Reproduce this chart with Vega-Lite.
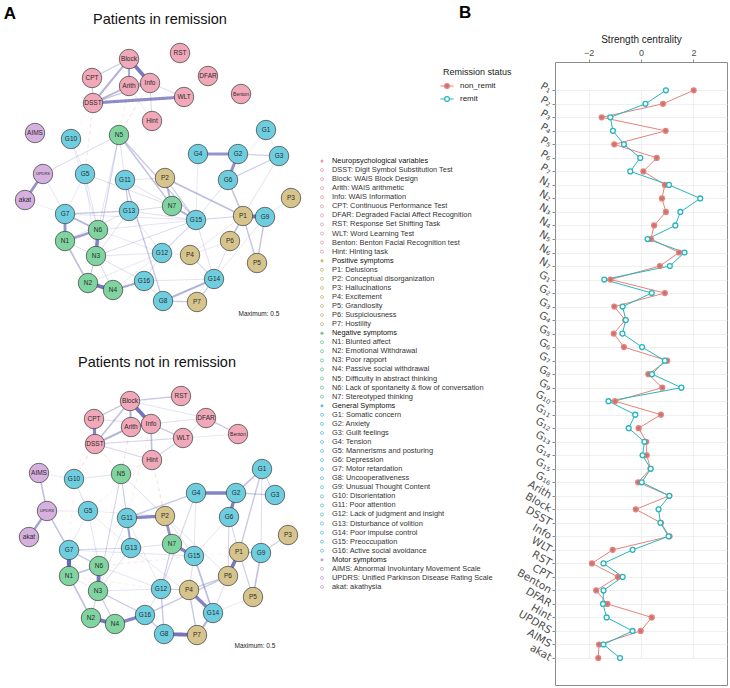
{
"$schema": "https://vega.github.io/schema/vega-lite/v6.json",
"background": "#ffffff",
"padding": {"left": 0, "top": 3, "right": 0, "bottom": 0},
"bounds": "flush",
"spacing": 0,
"config": {"view": {"stroke": null}, "font": "Liberation Sans"},
"resolve": {"scale": {"fill": "independent", "stroke": "independent", "opacity": "independent", "strokeWidth": "independent", "strokeDash": "independent", "size": "independent", "color": "independent"}},
"datasets": {
"nodes": [
{"id":"R:Block","name":"Block","grp":"neuro","x":129,"y":57},{"id":"R:RST","name":"RST","grp":"neuro","x":180,"y":51},{"id":"R:CPT","name":"CPT","grp":"neuro","x":92,"y":76},{"id":"R:Arith","name":"Arith","grp":"neuro","x":129,"y":84},{"id":"R:Info","name":"Info","grp":"neuro","x":150,"y":81},{"id":"R:DFAR","name":"DFAR","grp":"neuro","x":208,"y":74},{"id":"R:Benton","name":"Benton","grp":"neuro","x":241,"y":92},{"id":"R:DSST","name":"DSST","grp":"neuro","x":93,"y":101},{"id":"R:WLT","name":"WLT","grp":"neuro","x":184,"y":95},{"id":"R:Hint","name":"Hint","grp":"neuro","x":152,"y":119},
{"id":"R:AIMS","name":"AIMS","grp":"motor","x":35,"y":131},{"id":"R:UPDRS","name":"UPDRS","grp":"motor","x":43,"y":172},{"id":"R:akat","name":"akat","grp":"motor","x":25,"y":198},
{"id":"R:G10","name":"G10","grp":"gen","x":71,"y":137},{"id":"R:N5","name":"N5","grp":"neg","x":119,"y":133},{"id":"R:G1","name":"G1","grp":"gen","x":266,"y":128},{"id":"R:G4","name":"G4","grp":"gen","x":198,"y":152},{"id":"R:G2","name":"G2","grp":"gen","x":238,"y":152},{"id":"R:G3","name":"G3","grp":"gen","x":279,"y":154},
{"id":"R:G5","name":"G5","grp":"gen","x":85,"y":172},{"id":"R:G11","name":"G11","grp":"gen","x":125,"y":178},{"id":"R:P2","name":"P2","grp":"pos","x":165,"y":176},{"id":"R:G6","name":"G6","grp":"gen","x":228,"y":178},{"id":"R:P3","name":"P3","grp":"pos","x":291,"y":196},
{"id":"R:G7","name":"G7","grp":"gen","x":65,"y":212},{"id":"R:G13","name":"G13","grp":"gen","x":129,"y":209},{"id":"R:N7","name":"N7","grp":"neg","x":172,"y":204},{"id":"R:G15","name":"G15","grp":"gen","x":196,"y":218},{"id":"R:P1","name":"P1","grp":"pos","x":243,"y":214},{"id":"R:G9","name":"G9","grp":"gen","x":265,"y":215},
{"id":"R:N6","name":"N6","grp":"neg","x":98,"y":228},{"id":"R:N1","name":"N1","grp":"neg","x":65,"y":239},{"id":"R:P6","name":"P6","grp":"pos","x":230,"y":239},{"id":"R:N3","name":"N3","grp":"neg","x":96,"y":254},{"id":"R:G12","name":"G12","grp":"gen","x":162,"y":251},{"id":"R:P4","name":"P4","grp":"pos","x":190,"y":253},{"id":"R:P5","name":"P5","grp":"pos","x":257,"y":261},
{"id":"R:G14","name":"G14","grp":"gen","x":214,"y":277},{"id":"R:G16","name":"G16","grp":"gen","x":144,"y":279},{"id":"R:N2","name":"N2","grp":"neg","x":88,"y":281},{"id":"R:N4","name":"N4","grp":"neg","x":113,"y":288},{"id":"R:G8","name":"G8","grp":"gen","x":163,"y":299},{"id":"R:P7","name":"P7","grp":"pos","x":197,"y":300},
{"id":"N:Block","name":"Block","grp":"neuro","x":130,"y":399},{"id":"N:RST","name":"RST","grp":"neuro","x":181,"y":394},{"id":"N:CPT","name":"CPT","grp":"neuro","x":94,"y":417},{"id":"N:Arith","name":"Arith","grp":"neuro","x":131,"y":425},{"id":"N:Info","name":"Info","grp":"neuro","x":151,"y":422},{"id":"N:DFAR","name":"DFAR","grp":"neuro","x":206,"y":416},{"id":"N:Benton","name":"Benton","grp":"neuro","x":238,"y":432},{"id":"N:DSST","name":"DSST","grp":"neuro","x":95,"y":442},{"id":"N:WLT","name":"WLT","grp":"neuro","x":183,"y":436},{"id":"N:Hint","name":"Hint","grp":"neuro","x":152,"y":458},
{"id":"N:AIMS","name":"AIMS","grp":"motor","x":39,"y":471},{"id":"N:UPDRS","name":"UPDRS","grp":"motor","x":47,"y":509},{"id":"N:akat","name":"akat","grp":"motor","x":29,"y":535},
{"id":"N:G10","name":"G10","grp":"gen","x":74,"y":477},{"id":"N:N5","name":"N5","grp":"neg","x":121,"y":472},{"id":"N:G1","name":"G1","grp":"gen","x":262,"y":467},{"id":"N:G4","name":"G4","grp":"gen","x":196,"y":491},{"id":"N:G2","name":"G2","grp":"gen","x":236,"y":491},{"id":"N:G3","name":"G3","grp":"gen","x":275,"y":493},
{"id":"N:G5","name":"G5","grp":"gen","x":88,"y":509},{"id":"N:G11","name":"G11","grp":"gen","x":127,"y":516},{"id":"N:P2","name":"P2","grp":"pos","x":165,"y":514},{"id":"N:G6","name":"G6","grp":"gen","x":229,"y":515},{"id":"N:P3","name":"P3","grp":"pos","x":288,"y":533},
{"id":"N:G7","name":"G7","grp":"gen","x":69,"y":548},{"id":"N:G13","name":"G13","grp":"gen","x":131,"y":546},{"id":"N:N7","name":"N7","grp":"neg","x":172,"y":542},{"id":"N:G15","name":"G15","grp":"gen","x":194,"y":554},{"id":"N:P1","name":"P1","grp":"pos","x":239,"y":550},{"id":"N:G9","name":"G9","grp":"gen","x":261,"y":551},
{"id":"N:N6","name":"N6","grp":"neg","x":99,"y":564},{"id":"N:N1","name":"N1","grp":"neg","x":69,"y":574},{"id":"N:P6","name":"P6","grp":"pos","x":228,"y":574},{"id":"N:N3","name":"N3","grp":"neg","x":98,"y":589},{"id":"N:G12","name":"G12","grp":"gen","x":161,"y":587},{"id":"N:P4","name":"P4","grp":"pos","x":189,"y":588},{"id":"N:P5","name":"P5","grp":"pos","x":253,"y":595},
{"id":"N:G14","name":"G14","grp":"gen","x":213,"y":611},{"id":"N:G16","name":"G16","grp":"gen","x":145,"y":613},{"id":"N:N2","name":"N2","grp":"neg","x":91,"y":616},{"id":"N:N4","name":"N4","grp":"neg","x":115,"y":622},{"id":"N:G8","name":"G8","grp":"gen","x":164,"y":632},{"id":"N:P7","name":"P7","grp":"pos","x":197,"y":633}
],
"edges": [
{"a":"R:Arith","b":"R:Hint","w":0.04,"sign":"pos"},{"a":"R:G1","b":"R:G3","w":0.04,"sign":"pos"},{"a":"R:G4","b":"R:G15","w":0.04,"sign":"pos"},{"a":"R:G1","b":"R:G6","w":0.03,"sign":"pos"},{"a":"R:G9","b":"R:G14","w":0.04,"sign":"pos"},{"a":"R:P4","b":"R:P1","w":0.04,"sign":"pos"},{"a":"R:G12","b":"R:P4","w":0.04,"sign":"pos"},{"a":"R:G5","b":"R:G7","w":0.04,"sign":"pos"},{"a":"R:P6","b":"R:P4","w":0.04,"sign":"pos"},{"a":"R:G5","b":"R:N3","w":0.04,"sign":"pos"},{"a":"R:N2","b":"R:G12","w":0.04,"sign":"pos"},{"a":"R:N4","b":"R:G12","w":0.04,"sign":"pos"},{"a":"R:N6","b":"R:G12","w":0.04,"sign":"pos"},{"a":"R:akat","b":"R:G7","w":0.03,"sign":"pos"},{"a":"R:G10","b":"R:N6","w":0.04,"sign":"pos"},
{"a":"R:G10","b":"R:G5","w":0.05,"sign":"pos"},{"a":"R:UPDRS","b":"R:G7","w":0.05,"sign":"pos"},{"a":"R:N5","b":"R:G13","w":0.05,"sign":"pos"},{"a":"R:N5","b":"R:N6","w":0.05,"sign":"pos"},{"a":"R:G3","b":"R:P1","w":0.05,"sign":"pos"},{"a":"R:P2","b":"R:G11","w":0.05,"sign":"pos"},{"a":"R:P3","b":"R:G9","w":0.05,"sign":"pos"},{"a":"R:G13","b":"R:G12","w":0.05,"sign":"pos"},{"a":"R:G12","b":"R:N3","w":0.05,"sign":"pos"},{"a":"R:G5","b":"R:N6","w":0.05,"sign":"pos"},{"a":"R:G16","b":"R:G14","w":0.05,"sign":"pos"},{"a":"R:N6","b":"R:G15","w":0.05,"sign":"pos"},{"a":"R:N1","b":"R:G13","w":0.05,"sign":"pos"},{"a":"R:G7","b":"R:G15","w":0.05,"sign":"pos"},
{"a":"R:G6","b":"R:G15","w":0.06,"sign":"pos"},{"a":"R:P6","b":"R:G14","w":0.06,"sign":"pos"},{"a":"R:G15","b":"R:G14","w":0.06,"sign":"pos"},{"a":"R:N1","b":"R:N3","w":0.06,"sign":"pos"},{"a":"R:G12","b":"R:G16","w":0.06,"sign":"pos"},{"a":"R:G13","b":"R:G15","w":0.06,"sign":"pos"},{"a":"R:G5","b":"R:N7","w":0.06,"sign":"pos"},{"a":"R:G13","b":"R:N3","w":0.06,"sign":"pos"},{"a":"R:G16","b":"R:N3","w":0.06,"sign":"pos"},{"a":"R:G8","b":"R:G16","w":0.06,"sign":"pos"},{"a":"R:G11","b":"R:N7","w":0.06,"sign":"pos"},
{"a":"R:Info","b":"R:WLT","w":0.07,"sign":"pos"},{"a":"R:Info","b":"R:Hint","w":0.07,"sign":"pos"},{"a":"R:UPDRS","b":"R:N5","w":0.07,"sign":"pos"},{"a":"R:N3","b":"R:N4","w":0.07,"sign":"pos"},{"a":"R:G15","b":"R:N3","w":0.07,"sign":"pos"},{"a":"R:G13","b":"R:N7","w":0.07,"sign":"pos"},
{"a":"R:DSST","b":"R:G5","w":0.08,"sign":"neg"},{"a":"R:Arith","b":"R:N5","w":0.07,"sign":"neg"},{"a":"R:Info","b":"R:N5","w":0.09,"sign":"neg"},{"a":"R:DSST","b":"R:G10","w":0.04,"sign":"neg"},
{"a":"R:G15","b":"R:P1","w":0.08,"sign":"pos"},{"a":"R:G11","b":"R:G13","w":0.08,"sign":"pos"},{"a":"R:G12","b":"R:G15","w":0.08,"sign":"pos"},{"a":"R:P4","b":"R:G14","w":0.08,"sign":"pos"},{"a":"R:N5","b":"R:N3","w":0.09,"sign":"pos"},
{"a":"R:CPT","b":"R:DSST","w":0.1,"sign":"pos"},{"a":"R:Block","b":"R:CPT","w":0.1,"sign":"pos"},{"a":"R:G2","b":"R:G3","w":0.1,"sign":"pos"},{"a":"R:G6","b":"R:G3","w":0.1,"sign":"pos"},{"a":"R:P2","b":"R:G15","w":0.1,"sign":"pos"},{"a":"R:N2","b":"R:N3","w":0.1,"sign":"pos"},{"a":"R:P7","b":"R:G14","w":0.1,"sign":"pos"},
{"a":"R:DSST","b":"R:Info","w":0.12,"sign":"pos"},{"a":"R:N5","b":"R:G15","w":0.12,"sign":"pos"},{"a":"R:G7","b":"R:G13","w":0.12,"sign":"pos"},{"a":"R:G11","b":"R:G8","w":0.12,"sign":"pos"},{"a":"R:G8","b":"R:P7","w":0.12,"sign":"pos"},{"a":"R:P1","b":"R:P5","w":0.13,"sign":"pos"},{"a":"R:G9","b":"R:P5","w":0.13,"sign":"pos"},
{"a":"R:N5","b":"R:N7","w":0.14,"sign":"pos"},{"a":"R:G6","b":"R:P1","w":0.14,"sign":"pos"},{"a":"R:P1","b":"R:P6","w":0.15,"sign":"pos"},{"a":"R:P2","b":"R:P1","w":0.16,"sign":"pos"},{"a":"R:N1","b":"R:N2","w":0.16,"sign":"pos"},{"a":"R:Arith","b":"R:DSST","w":0.18,"sign":"pos"},{"a":"R:P2","b":"R:N7","w":0.18,"sign":"pos"},{"a":"R:G7","b":"R:N6","w":0.18,"sign":"pos"},
{"a":"R:Block","b":"R:DSST","w":0.2,"sign":"pos"},{"a":"R:N7","b":"R:G15","w":0.2,"sign":"pos"},{"a":"R:G14","b":"R:G8","w":0.2,"sign":"pos"},{"a":"R:Block","b":"R:Arith","w":0.22,"sign":"pos"},{"a":"R:Arith","b":"R:Info","w":0.22,"sign":"pos"},{"a":"R:N4","b":"R:G16","w":0.22,"sign":"pos"},{"a":"R:N1","b":"R:N6","w":0.26,"sign":"pos"},
{"a":"R:UPDRS","b":"R:akat","w":0.3,"sign":"pos"},{"a":"R:G4","b":"R:G2","w":0.3,"sign":"pos"},{"a":"R:G7","b":"R:N1","w":0.3,"sign":"pos"},{"a":"R:G2","b":"R:G6","w":0.32,"sign":"pos"},{"a":"R:DSST","b":"R:WLT","w":0.33,"sign":"pos"},{"a":"R:N6","b":"R:N3","w":0.36,"sign":"pos"},{"a":"R:Block","b":"R:Info","w":0.4,"sign":"pos"},{"a":"R:P1","b":"R:G9","w":0.42,"sign":"pos"},{"a":"R:N2","b":"R:N4","w":0.42,"sign":"pos"},
{"a":"N:Benton","b":"N:WLT","w":0.04,"sign":"pos"},{"a":"N:UPDRS","b":"N:G5","w":0.04,"sign":"pos"},{"a":"N:AIMS","b":"N:G10","w":0.04,"sign":"pos"},{"a":"N:G5","b":"N:G7","w":0.04,"sign":"pos"},{"a":"N:P5","b":"N:G14","w":0.04,"sign":"pos"},{"a":"N:G5","b":"N:G13","w":0.04,"sign":"pos"},{"a":"N:N1","b":"N:G16","w":0.04,"sign":"pos"},{"a":"N:G13","b":"N:G14","w":0.04,"sign":"pos"},{"a":"N:G11","b":"N:G12","w":0.04,"sign":"pos"},{"a":"N:G5","b":"N:P2","w":0.04,"sign":"pos"},
{"a":"N:Block","b":"N:DFAR","w":0.05,"sign":"pos"},{"a":"N:WLT","b":"N:DFAR","w":0.05,"sign":"pos"},{"a":"N:G10","b":"N:N5","w":0.05,"sign":"pos"},{"a":"N:N5","b":"N:G13","w":0.05,"sign":"pos"},{"a":"N:G4","b":"N:G15","w":0.05,"sign":"pos"},{"a":"N:G5","b":"N:N6","w":0.05,"sign":"pos"},{"a":"N:G11","b":"N:N3","w":0.05,"sign":"pos"},{"a":"N:P2","b":"N:P6","w":0.05,"sign":"pos"},{"a":"N:G6","b":"N:G15","w":0.05,"sign":"pos"},{"a":"N:G7","b":"N:G15","w":0.05,"sign":"pos"},{"a":"N:N6","b":"N:G12","w":0.05,"sign":"pos"},{"a":"N:N3","b":"N:G12","w":0.05,"sign":"pos"},
{"a":"N:Info","b":"N:DFAR","w":0.06,"sign":"pos"},{"a":"N:CPT","b":"N:Info","w":0.06,"sign":"pos"},{"a":"N:G10","b":"N:G5","w":0.06,"sign":"pos"},{"a":"N:N5","b":"N:G11","w":0.06,"sign":"pos"},{"a":"N:N5","b":"N:P2","w":0.06,"sign":"pos"},{"a":"N:G1","b":"N:G9","w":0.06,"sign":"pos"},{"a":"N:G15","b":"N:P4","w":0.06,"sign":"pos"},{"a":"N:G13","b":"N:N7","w":0.06,"sign":"pos"},{"a":"N:G12","b":"N:G16","w":0.06,"sign":"pos"},{"a":"N:G13","b":"N:N3","w":0.06,"sign":"pos"},{"a":"N:P2","b":"N:G15","w":0.06,"sign":"pos"},{"a":"N:G14","b":"N:P6","w":0.06,"sign":"pos"},
{"a":"N:DSST","b":"N:G10","w":0.1,"sign":"neg"},{"a":"N:DSST","b":"N:N5","w":0.08,"sign":"neg"},{"a":"N:Arith","b":"N:N5","w":0.1,"sign":"neg"},{"a":"N:Hint","b":"N:N5","w":0.08,"sign":"neg"},{"a":"N:Hint","b":"N:P2","w":0.1,"sign":"neg"},{"a":"N:Info","b":"N:G11","w":0.06,"sign":"neg"},{"a":"N:Hint","b":"N:G5","w":0.05,"sign":"neg"},{"a":"N:CPT","b":"N:G10","w":0.04,"sign":"neg"},{"a":"N:G10","b":"N:G7","w":0.04,"sign":"neg"},{"a":"N:N1","b":"N:G12","w":0.05,"sign":"neg"},{"a":"N:N6","b":"N:G15","w":0.04,"sign":"neg"},{"a":"N:N6","b":"N:P1","w":0.03,"sign":"neg"},
{"a":"N:DSST","b":"N:WLT","w":0.08,"sign":"pos"},{"a":"N:DSST","b":"N:Hint","w":0.08,"sign":"pos"},{"a":"N:WLT","b":"N:Hint","w":0.08,"sign":"pos"},{"a":"N:N5","b":"N:N3","w":0.08,"sign":"pos"},{"a":"N:G1","b":"N:G3","w":0.08,"sign":"pos"},{"a":"N:G4","b":"N:G12","w":0.08,"sign":"pos"},{"a":"N:G6","b":"N:P6","w":0.08,"sign":"pos"},{"a":"N:G6","b":"N:P1","w":0.08,"sign":"pos"},{"a":"N:N2","b":"N:N3","w":0.08,"sign":"pos"},{"a":"N:N3","b":"N:G16","w":0.08,"sign":"pos"},{"a":"N:G7","b":"N:G13","w":0.08,"sign":"pos"},
{"a":"N:N7","b":"N:G12","w":0.1,"sign":"pos"},{"a":"N:P1","b":"N:P5","w":0.1,"sign":"pos"},{"a":"N:P3","b":"N:G9","w":0.1,"sign":"pos"},{"a":"N:P4","b":"N:G12","w":0.1,"sign":"pos"},{"a":"N:N3","b":"N:N4","w":0.1,"sign":"pos"},
{"a":"N:Block","b":"N:RST","w":0.12,"sign":"pos"},{"a":"N:Block","b":"N:CPT","w":0.12,"sign":"pos"},{"a":"N:Info","b":"N:WLT","w":0.12,"sign":"pos"},{"a":"N:DFAR","b":"N:Benton","w":0.12,"sign":"pos"},{"a":"N:G2","b":"N:G3","w":0.12,"sign":"pos"},{"a":"N:G1","b":"N:P1","w":0.12,"sign":"pos"},{"a":"N:G4","b":"N:G11","w":0.12,"sign":"pos"},{"a":"N:P6","b":"N:P4","w":0.12,"sign":"pos"},{"a":"N:P4","b":"N:P7","w":0.12,"sign":"pos"},{"a":"N:G16","b":"N:P6","w":0.12,"sign":"pos"},{"a":"N:G16","b":"N:G8","w":0.12,"sign":"pos"},{"a":"N:G7","b":"N:N6","w":0.12,"sign":"pos"},{"a":"N:G12","b":"N:G8","w":0.12,"sign":"pos"},
{"a":"N:UPDRS","b":"N:G7","w":0.14,"sign":"pos"},{"a":"N:Block","b":"N:DSST","w":0.15,"sign":"pos"},{"a":"N:Info","b":"N:Hint","w":0.15,"sign":"pos"},{"a":"N:AIMS","b":"N:UPDRS","w":0.15,"sign":"pos"},{"a":"N:G2","b":"N:G1","w":0.15,"sign":"pos"},{"a":"N:P1","b":"N:G9","w":0.15,"sign":"pos"},{"a":"N:G9","b":"N:P5","w":0.15,"sign":"pos"},{"a":"N:N1","b":"N:N2","w":0.15,"sign":"pos"},{"a":"N:N1","b":"N:N6","w":0.15,"sign":"pos"},{"a":"N:G15","b":"N:G14","w":0.16,"sign":"pos"},
{"a":"N:Block","b":"N:Arith","w":0.2,"sign":"pos"},{"a":"N:DSST","b":"N:Arith","w":0.2,"sign":"pos"},{"a":"N:Arith","b":"N:Info","w":0.2,"sign":"pos"},{"a":"N:G14","b":"N:P7","w":0.2,"sign":"pos"},{"a":"N:G11","b":"N:G13","w":0.22,"sign":"pos"},{"a":"N:UPDRS","b":"N:akat","w":0.25,"sign":"pos"},{"a":"N:P2","b":"N:N7","w":0.3,"sign":"pos"},
{"a":"N:CPT","b":"N:DSST","w":0.35,"sign":"pos"},{"a":"N:G11","b":"N:P2","w":0.35,"sign":"pos"},{"a":"N:G4","b":"N:G2","w":0.36,"sign":"pos"},{"a":"N:G2","b":"N:G6","w":0.36,"sign":"pos"},{"a":"N:N7","b":"N:G15","w":0.36,"sign":"pos"},{"a":"N:P4","b":"N:G14","w":0.36,"sign":"pos"},{"a":"N:N4","b":"N:G16","w":0.36,"sign":"pos"},{"a":"N:P1","b":"N:P6","w":0.4,"sign":"pos"},{"a":"N:N6","b":"N:N3","w":0.4,"sign":"pos"},{"a":"N:Block","b":"N:Info","w":0.42,"sign":"pos"},{"a":"N:G8","b":"N:P7","w":0.42,"sign":"pos"},{"a":"N:N2","b":"N:N4","w":0.42,"sign":"pos"},{"a":"N:N1","b":"N:G7","w":0.46,"sign":"pos"}
],
"keyrows": [
{"row":0,"text":"Neuropsychological variables","grp":"neuro","head":true},
{"row":1,"text":"DSST:  Digit Symbol Substitution Test","grp":"neuro","head":false},
{"row":2,"text":"Block: WAIS Block Design","grp":"neuro","head":false},
{"row":3,"text":"Arith: WAIS arithmetic","grp":"neuro","head":false},
{"row":4,"text":"Info: WAIS Information","grp":"neuro","head":false},
{"row":5,"text":"CPT: Continuous Performance Test","grp":"neuro","head":false},
{"row":6,"text":"DFAR: Degraded Facial Affect Recognition","grp":"neuro","head":false},
{"row":7,"text":"RST: Response Set Shifting Task","grp":"neuro","head":false},
{"row":8,"text":"WLT: Word Learning Test","grp":"neuro","head":false},
{"row":9,"text":"Benton: Benton Facial Recognition test","grp":"neuro","head":false},
{"row":10,"text":"Hint: Hinting task","grp":"neuro","head":false},
{"row":11,"text":"Positive symptoms","grp":"pos","head":true},
{"row":12,"text":"P1: Delusions","grp":"pos","head":false},
{"row":13,"text":"P2: Conceptual disorganization","grp":"pos","head":false},
{"row":14,"text":"P3: Hallucinations","grp":"pos","head":false},
{"row":15,"text":"P4: Excitement","grp":"pos","head":false},
{"row":16,"text":"P5: Grandiosity","grp":"pos","head":false},
{"row":17,"text":"P6: Suspiciousness","grp":"pos","head":false},
{"row":18,"text":"P7: Hostility","grp":"pos","head":false},
{"row":19,"text":"Negative symptoms","grp":"neg","head":true},
{"row":20,"text":"N1: Blunted affect","grp":"neg","head":false},
{"row":21,"text":"N2: Emotional Withdrawal","grp":"neg","head":false},
{"row":22,"text":"N3: Poor rapport","grp":"neg","head":false},
{"row":23,"text":"N4: Passive social withdrawal","grp":"neg","head":false},
{"row":24,"text":"N5: Difficulty in abstract thinking","grp":"neg","head":false},
{"row":25,"text":"N6: Lack of spontaneity & flow of conversation","grp":"neg","head":false},
{"row":26,"text":"N7: Stereotyped thinking","grp":"neg","head":false},
{"row":27,"text":"General Symptoms","grp":"gen","head":true},
{"row":28,"text":"G1: Somatic concern","grp":"gen","head":false},
{"row":29,"text":"G2: Anxiety","grp":"gen","head":false},
{"row":30,"text":"G3: Guilt feelings","grp":"gen","head":false},
{"row":31,"text":"G4: Tension","grp":"gen","head":false},
{"row":32,"text":"G5: Mannerisms and posturing","grp":"gen","head":false},
{"row":33,"text":"G6: Depression","grp":"gen","head":false},
{"row":34,"text":"G7: Motor retardation","grp":"gen","head":false},
{"row":35,"text":"G8: Uncooperativeness","grp":"gen","head":false},
{"row":36,"text":"G9: Unusual Thought Content","grp":"gen","head":false},
{"row":37,"text":"G10: Disorientation","grp":"gen","head":false},
{"row":38,"text":"G11: Poor attention","grp":"gen","head":false},
{"row":39,"text":"G12: Lack of judgment and insight","grp":"gen","head":false},
{"row":40,"text":"G13: Disturbance of volition","grp":"gen","head":false},
{"row":41,"text":"G14: Poor impulse control","grp":"gen","head":false},
{"row":42,"text":"G15: Preoccupation","grp":"gen","head":false},
{"row":43,"text":"G16: Active social avoidance","grp":"gen","head":false},
{"row":44,"text":"Motor symptoms","grp":"motor","head":true},
{"row":45,"text":"AIMS: Abnormal Involuntary Movement Scale","grp":"motor","head":false},
{"row":46,"text":"UPDRS: Unified Parkinson Disease Rating Scale","grp":"motor","head":false},
{"row":47,"text":"akat: akathysia","grp":"motor","head":false}
],
"cent": [
{"item":"P₁","order":1,"status":"non_remit","value":2.01},{"item":"P₁","order":1,"status":"remit","value":0.95},
{"item":"P₂","order":2,"status":"non_remit","value":0.84},{"item":"P₂","order":2,"status":"remit","value":0.17},
{"item":"P₃","order":3,"status":"non_remit","value":-1.5},{"item":"P₃","order":3,"status":"remit","value":-1.17},
{"item":"P₄","order":4,"status":"non_remit","value":0.94},{"item":"P₄","order":4,"status":"remit","value":-1.07},
{"item":"P₅","order":5,"status":"non_remit","value":-1.02},{"item":"P₅","order":5,"status":"remit","value":-0.65},
{"item":"P₆","order":6,"status":"non_remit","value":0.6},{"item":"P₆","order":6,"status":"remit","value":-0.03},
{"item":"P₇","order":7,"status":"non_remit","value":0.09},{"item":"P₇","order":7,"status":"remit","value":-0.41},
{"item":"N₁","order":8,"status":"non_remit","value":0.91},{"item":"N₁","order":8,"status":"remit","value":1.07},
{"item":"N₂","order":9,"status":"non_remit","value":0.8},{"item":"N₂","order":9,"status":"remit","value":2.26},
{"item":"N₃","order":10,"status":"non_remit","value":0.95},{"item":"N₃","order":10,"status":"remit","value":1.5},
{"item":"N₄","order":11,"status":"non_remit","value":0.5},{"item":"N₄","order":11,"status":"remit","value":1.31},
{"item":"N₅","order":12,"status":"non_remit","value":0.38},{"item":"N₅","order":12,"status":"remit","value":0.25},
{"item":"N₆","order":13,"status":"non_remit","value":1.45},{"item":"N₆","order":13,"status":"remit","value":1.66},
{"item":"N₇","order":14,"status":"non_remit","value":0.72},{"item":"N₇","order":14,"status":"remit","value":1.1},
{"item":"G₁","order":15,"status":"non_remit","value":-1.16},{"item":"G₁","order":15,"status":"remit","value":-1.4},
{"item":"G₂","order":16,"status":"non_remit","value":0.91},{"item":"G₂","order":16,"status":"remit","value":0.41},
{"item":"G₃","order":17,"status":"non_remit","value":-1.02},{"item":"G₃","order":17,"status":"remit","value":-0.7},
{"item":"G₄","order":18,"status":"non_remit","value":-0.6},{"item":"G₄","order":18,"status":"remit","value":-0.58},
{"item":"G₅","order":19,"status":"non_remit","value":-1.04},{"item":"G₅","order":19,"status":"remit","value":-0.71},
{"item":"G₆","order":20,"status":"non_remit","value":-0.65},{"item":"G₆","order":20,"status":"remit","value":0.04},
{"item":"G₇","order":21,"status":"non_remit","value":1.0},{"item":"G₇","order":21,"status":"remit","value":0.91},
{"item":"G₈","order":22,"status":"non_remit","value":0.28},{"item":"G₈","order":22,"status":"remit","value":0.42},
{"item":"G₉","order":23,"status":"non_remit","value":0.81},{"item":"G₉","order":23,"status":"remit","value":1.54},
{"item":"G₁₀","order":24,"status":"non_remit","value":-0.99},{"item":"G₁₀","order":24,"status":"remit","value":-1.24},
{"item":"G₁₁","order":25,"status":"non_remit","value":0.76},{"item":"G₁₁","order":25,"status":"remit","value":-0.22},
{"item":"G₁₂","order":26,"status":"non_remit","value":-0.09},{"item":"G₁₂","order":26,"status":"remit","value":-0.47},
{"item":"G₁₃","order":27,"status":"non_remit","value":0.2},{"item":"G₁₃","order":27,"status":"remit","value":0.13},
{"item":"G₁₄","order":28,"status":"non_remit","value":0.22},{"item":"G₁₄","order":28,"status":"remit","value":0.06},
{"item":"G₁₅","order":29,"status":"non_remit","value":0.36},{"item":"G₁₅","order":29,"status":"remit","value":0.37},
{"item":"G₁₆","order":30,"status":"non_remit","value":-0.11},{"item":"G₁₆","order":30,"status":"remit","value":0.03},
{"item":"Arith","order":31,"status":"non_remit","value":1.08},{"item":"Arith","order":31,"status":"remit","value":1.08},
{"item":"Block","order":32,"status":"non_remit","value":-0.2},{"item":"Block","order":32,"status":"remit","value":0.67},
{"item":"DSST","order":33,"status":"non_remit","value":0.76},{"item":"DSST","order":33,"status":"remit","value":0.74},
{"item":"Info","order":34,"status":"non_remit","value":1.09},{"item":"Info","order":34,"status":"remit","value":1.05},
{"item":"WLT","order":35,"status":"non_remit","value":-1.08},{"item":"WLT","order":35,"status":"remit","value":-0.32},
{"item":"RST","order":36,"status":"non_remit","value":-1.87},{"item":"RST","order":36,"status":"remit","value":-1.43},
{"item":"CPT","order":37,"status":"non_remit","value":-0.88},{"item":"CPT","order":37,"status":"remit","value":-0.7},
{"item":"Benton","order":38,"status":"non_remit","value":-1.71},{"item":"Benton","order":38,"status":"remit","value":-1.43},
{"item":"DFAR","order":39,"status":"non_remit","value":-1.28},{"item":"DFAR","order":39,"status":"remit","value":-1.45},
{"item":"Hint","order":40,"status":"non_remit","value":0.41},{"item":"Hint","order":40,"status":"remit","value":-1.31},
{"item":"UPDRS","order":41,"status":"non_remit","value":-0.01},{"item":"UPDRS","order":41,"status":"remit","value":-0.32},
{"item":"AIMS","order":42,"status":"non_remit","value":-1.6},{"item":"AIMS","order":42,"status":"remit","value":-1.43},
{"item":"akat","order":43,"status":"non_remit","value":-1.63},{"item":"akat","order":43,"status":"remit","value":-0.8}
]
},
"hconcat": [
{
"width": 310, "height": 623,
"layer": [
{"data": {"name": "edges"},
 "transform": [
  {"lookup": "a", "from": {"data": {"name": "nodes"}, "key": "id", "fields": ["x", "y"]}, "as": ["xa", "ya"]},
  {"lookup": "b", "from": {"data": {"name": "nodes"}, "key": "id", "fields": ["x", "y"]}, "as": ["xb", "yb"]}
 ],
 "mark": {"type": "rule"},
 "encoding": {
  "x": {"field": "xa", "type": "quantitative", "scale": {"domain": [0, 310], "nice": false, "zero": false}, "axis": null},
  "y": {"field": "ya", "type": "quantitative", "scale": {"domain": [60, 683], "nice": false, "zero": false, "reverse": true}, "axis": null},
  "x2": {"field": "xb"},
  "y2": {"field": "yb"},
  "stroke": {"field": "sign", "type": "nominal", "scale": {"domain": ["pos", "neg"], "range": ["#5454ae", "#f0968f"]}, "legend": null},
  "strokeDash": {"field": "sign", "type": "nominal", "scale": {"domain": ["pos", "neg"], "range": [[1, 0], [4, 3]]}, "legend": null},
  "strokeWidth": {"field": "w", "type": "quantitative", "scale": {"domain": [0, 0.5], "range": [0.4, 4.5]}, "legend": null},
  "opacity": {"field": "w", "type": "quantitative", "scale": {"domain": [0, 0.5], "range": [0.12, 0.95]}, "legend": null}
 }
},
{"data": {"name": "nodes"},
 "mark": {"type": "point", "shape": "circle", "filled": true, "size": 380, "stroke": "#3a3a3a", "strokeWidth": 0.7, "opacity": 1},
 "encoding": {
  "x": {"field": "x", "type": "quantitative", "scale": {"domain": [0, 310], "nice": false, "zero": false}, "axis": null},
  "y": {"field": "y", "type": "quantitative", "scale": {"domain": [60, 683], "nice": false, "zero": false, "reverse": true}, "axis": null},
  "fill": {"field": "grp", "type": "nominal", "scale": {"domain": ["neuro", "pos", "neg", "gen", "motor"], "range": ["#f1a8b9", "#d6c48c", "#80d4a0", "#6ecee0", "#d6b0de"]}, "legend": null}
 }
},
{"data": {"name": "nodes"},
 "mark": {"type": "text", "align": "center", "baseline": "middle", "color": "#2a2a2a"},
 "encoding": {
  "x": {"field": "x", "type": "quantitative", "axis": null},
  "y": {"field": "y", "type": "quantitative", "axis": null},
  "text": {"field": "name"},
  "size": {"condition": [{"test": "datum.name === 'UPDRS'", "value": 4}, {"test": "datum.name === 'Benton'", "value": 5}], "value": 6.5}
 }
},
{"data": {"values": [{"label": "Patients in remission"}]},
 "mark": {"type": "text", "fontSize": 14.5, "color": "#111", "align": "center", "baseline": "middle"},
 "encoding": {"x": {"datum": 160, "type": "quantitative"}, "y": {"datum": 18, "type": "quantitative"}, "text": {"field": "label"}}
},
{"data": {"values": [{"label": "Patients not in remission"}]},
 "mark": {"type": "text", "fontSize": 14.5, "color": "#111", "align": "center", "baseline": "middle"},
 "encoding": {"x": {"datum": 157, "type": "quantitative"}, "y": {"datum": 361, "type": "quantitative"}, "text": {"field": "label"}}
},
{"data": {"values": [{"label": "A"}]},
 "mark": {"type": "text", "fontSize": 17, "fontWeight": "bold", "color": "#000", "align": "center", "baseline": "middle"},
 "encoding": {"x": {"datum": 10, "type": "quantitative"}, "y": {"datum": 12, "type": "quantitative"}, "text": {"field": "label"}}
},
{"data": {"values": [{"label": "Maximum: 0.5"}]},
 "mark": {"type": "text", "fontSize": 6.5, "color": "#222", "align": "center", "baseline": "middle"},
 "encoding": {"x": {"datum": 259, "type": "quantitative"}, "y": {"datum": 312, "type": "quantitative"}, "text": {"field": "label"}}
},
{"data": {"values": [{"label": "Maximum: 0.5"}]},
 "mark": {"type": "text", "fontSize": 6.5, "color": "#222", "align": "center", "baseline": "middle"},
 "encoding": {"x": {"datum": 255, "type": "quantitative"}, "y": {"datum": 644, "type": "quantitative"}, "text": {"field": "label"}}
}
]
},
{
"width": 245, "height": 623,
"data": {"name": "keyrows"},
"encoding": {"y": {"field": "row", "type": "ordinal", "scale": {"type": "point", "padding": 0, "range": [99, 525]}, "axis": null}},
"layer": [
{"transform": [{"filter": "datum.head"}],
 "mark": {"type": "point", "shape": "circle", "filled": true, "size": 9, "opacity": 1},
 "encoding": {
  "x": {"datum": 12, "type": "quantitative", "scale": {"domain": [0, 245], "nice": false, "zero": false}, "axis": null},
  "fill": {"field": "grp", "type": "nominal", "scale": {"domain": ["neuro", "pos", "neg", "gen", "motor"], "range": ["#e79aae", "#c9b678", "#6cc692", "#5ec3d6", "#c9a0d2"]}, "legend": null}
 }
},
{"transform": [{"filter": "!datum.head"}],
 "mark": {"type": "point", "shape": "circle", "filled": false, "size": 9, "strokeWidth": 0.8, "opacity": 1},
 "encoding": {
  "x": {"datum": 12, "type": "quantitative", "axis": null},
  "stroke": {"field": "grp", "type": "nominal", "scale": {"domain": ["neuro", "pos", "neg", "gen", "motor"], "range": ["#e79aae", "#c9b678", "#6cc692", "#5ec3d6", "#c9a0d2"]}, "legend": null}
 }
},
{"mark": {"type": "text", "align": "left", "baseline": "middle", "fontSize": 7.4},
 "encoding": {
  "x": {"datum": 22, "type": "quantitative", "axis": null},
  "text": {"field": "text"},
  "fontWeight": {"condition": {"test": "datum.head", "value": "bold"}, "value": "normal"},
  "color": {"condition": {"test": "datum.head", "value": "#111111"}, "value": "#333333"}
 }
}
]
},
{
"width": 172, "height": 623,
"view": {"stroke": "#8c8c8c", "strokeWidth": 1},
"title": {"text": "B", "anchor": "start", "frame": "group", "dx": -96, "fontSize": 17, "fontWeight": "bold", "color": "#000", "offset": 12},
"data": {"name": "cent"},
"encoding": {
 "y": {"field": "item", "type": "nominal", "sort": {"field": "order", "op": "min"}, "scale": {"type": "point", "padding": 0, "range": [28.3, 596]},
  "axis": {"title": null, "labelAngle": 30, "labelAlign": "right", "labelBaseline": "middle", "labelFont": "DejaVu Sans", "labelFontSize": 10.5, "labelColor": "#4d4d4d", "labelPadding": 2, "tickSize": 3, "tickColor": "#8c8c8c", "domain": false, "grid": true, "gridColor": "#ebebeb", "gridWidth": 0.8}},
 "x": {"field": "value", "type": "quantitative", "scale": {"domain": [-3.28, 3.28], "nice": false, "zero": false},
  "axis": {"orient": "top", "values": [-2, 0, 2], "title": "Strength centrality", "titleFontSize": 10, "titleFontWeight": "normal", "titleColor": "#222", "titlePadding": 4, "labelFontSize": 9, "labelColor": "#4d4d4d", "labelPadding": 2, "tickSize": 3, "tickColor": "#8c8c8c", "domain": false, "grid": true, "gridColor": "#ebebeb", "gridWidth": 0.8}}
},
"layer": [
{"mark": {"type": "line", "strokeWidth": 1},
 "encoding": {
  "stroke": {"field": "status", "type": "nominal", "scale": {"domain": ["non_remit", "remit"], "range": ["#e5837b", "#27b6bd"]},
   "legend": {"title": "Remission status", "orient": "none", "legendX": -112, "legendY": 6, "titleFontSize": 9, "titleFontWeight": "normal", "titleColor": "#222", "labelFontSize": 8, "labelColor": "#222", "symbolType": "M-2.2,0L-0.8,0M0.8,0L2.2,0M0.8,0A0.8,0.8,0,1,1,-0.8,0A0.8,0.8,0,1,1,0.8,0Z", "symbolSize": 36, "symbolStrokeWidth": 1.2, "labelOffset": 9, "rowPadding": 3, "titlePadding": 5}},
  "order": {"field": "order", "type": "quantitative"}
 }
},
{"mark": {"type": "point", "shape": "circle", "filled": true, "size": 24, "strokeWidth": 1.3, "opacity": 1},
 "encoding": {
  "stroke": {"field": "status", "type": "nominal",
   "legend": {"title": "Remission status", "orient": "none", "legendX": -112, "legendY": 6, "titleFontSize": 9, "titleFontWeight": "normal", "titleColor": "#222", "labelFontSize": 8, "labelColor": "#222", "symbolType": "M-2.2,0L-0.8,0M0.8,0L2.2,0M0.8,0A0.8,0.8,0,1,1,-0.8,0A0.8,0.8,0,1,1,0.8,0Z", "symbolSize": 36, "symbolStrokeWidth": 1.2, "labelOffset": 9, "rowPadding": 3, "titlePadding": 5}},
  "fill": {"field": "status", "type": "nominal", "scale": {"domain": ["non_remit", "remit"], "range": ["#c97272", "#ffffff"]},
   "legend": {"title": "Remission status", "orient": "none", "legendX": -112, "legendY": 6, "titleFontSize": 9, "titleFontWeight": "normal", "titleColor": "#222", "labelFontSize": 8, "labelColor": "#222", "symbolType": "M-2.2,0L-0.8,0M0.8,0L2.2,0M0.8,0A0.8,0.8,0,1,1,-0.8,0A0.8,0.8,0,1,1,0.8,0Z", "symbolSize": 36, "symbolStrokeWidth": 1.2, "labelOffset": 9, "rowPadding": 3, "titlePadding": 5}}
 }
}
]
}
]
}
